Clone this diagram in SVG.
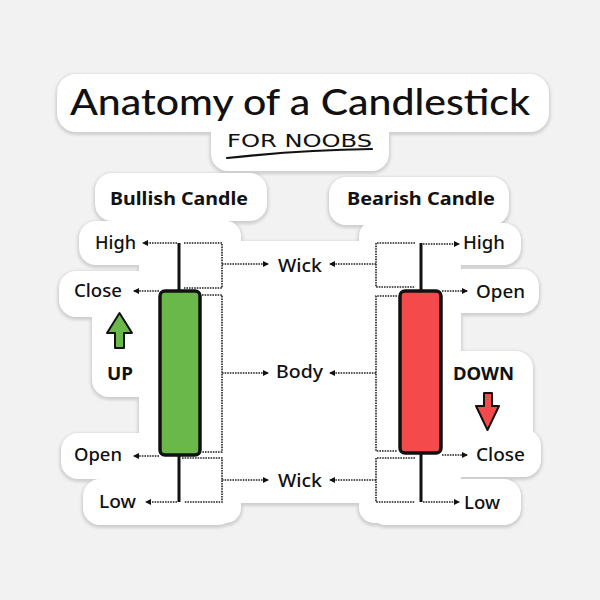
<svg xmlns="http://www.w3.org/2000/svg" width="600" height="600" viewBox="0 0 600 600">
<style>
.lbl{font-family:"Noto Sans","Lato",sans-serif;font-weight:500;font-size:18px;fill:#111}
.bold{font-family:"Noto Sans","Lato",sans-serif;font-weight:700;font-size:18px;fill:#111}
.dot{fill:none;stroke:#222;stroke-width:1.6;stroke-dasharray:1.6 1}
.wick{stroke:#111;stroke-width:3;fill:none}
.body{stroke:#111;stroke-width:3.5}
.stk{fill:#fff}
</style>
<defs>
<marker id="ah" viewBox="0 0 6 6" refX="5" refY="3" markerWidth="6" markerHeight="6" markerUnits="userSpaceOnUse" orient="auto">
<path d="M0,0 L6,3 L0,6 Z" fill="#111"/>
</marker>
<filter id="blur" x="-10%" y="-10%" width="120%" height="120%"><feGaussianBlur stdDeviation="1.5"/></filter>
<g id="stickershape">
<rect x="58" y="75" width="490" height="56" rx="18"/>
<rect x="212" y="118" width="176" height="52" rx="16"/>
<rect x="96" y="174" width="170" height="46" rx="16"/>
<rect x="330" y="178" width="178" height="46" rx="16"/>
<rect x="200" y="242" width="200" height="260" rx="14"/>
<rect x="80" y="222" width="160" height="42" rx="16"/>
<rect x="60" y="272" width="150" height="44" rx="16"/>
<rect x="93" y="300" width="110" height="96" rx="16"/>
<rect x="140" y="222" width="100" height="300" rx="14"/>
<rect x="62" y="434" width="150" height="44" rx="16"/>
<rect x="84" y="480" width="150" height="44" rx="16"/>
<rect x="360" y="224" width="160" height="40" rx="16"/>
<rect x="360" y="270" width="178" height="42" rx="16"/>
<rect x="360" y="222" width="100" height="300" rx="14"/>
<rect x="440" y="352" width="92" height="96" rx="16"/>
<rect x="390" y="430" width="150" height="46" rx="16"/>
<rect x="370" y="480" width="150" height="44" rx="16"/>
</g>
</defs>
<rect width="600" height="600" fill="#f2f2f2"/>
<g id="sticker">
<use href="#stickershape" fill="#cfcfcf" stroke="#cfcfcf" stroke-width="5" transform="translate(0,1.5)" filter="url(#blur)"/>
<use href="#stickershape" fill="#fff" stroke="#fff" stroke-width="2"/>
</g>
<g id="title">
<text x="70" y="115" font-family="Lato,'Noto Sans',sans-serif" font-size="36" font-weight="500" fill="#111" textLength="460" lengthAdjust="spacingAndGlyphs">Anatomy of a Candlestick</text>
<text x="227" y="147" font-family="'DejaVu Sans','Liberation Sans',sans-serif" font-size="18" fill="#111" textLength="145" lengthAdjust="spacingAndGlyphs">FOR NOOBS</text>
<path d="M227,158 Q300,150 372,149" fill="none" stroke="#111" stroke-width="2.2" stroke-linecap="round"/>
</g>
<g id="bullish-title"><text class="bold" x="110" y="205" textLength="138" lengthAdjust="spacingAndGlyphs">Bullish Candle</text></g>
<g id="bearish-title"><text class="bold" x="347" y="205" textLength="148" lengthAdjust="spacingAndGlyphs">Bearish Candle</text></g>

<g id="bull-candle">
<line class="wick" x1="179" y1="243" x2="179" y2="291"/>
<line class="wick" x1="179" y1="455" x2="179" y2="502"/>
<rect class="body" x="160" y="291" width="40" height="164" rx="5" fill="#6ab84a"/>
</g>
<g id="bear-candle">
<line class="wick" x1="421" y1="243" x2="421" y2="291"/>
<line class="wick" x1="421" y1="453" x2="421" y2="502"/>
<rect class="body" x="400" y="291" width="41" height="162" rx="5" fill="#f44a4c"/>
</g>

<g id="up">
<polygon points="119.5,313 132,333 124,333 124,348 115,348 115,333 107,333" fill="#6ab84a" stroke="#111" stroke-width="2" stroke-linejoin="round"/>
<text class="bold" x="107" y="380" textLength="26" lengthAdjust="spacingAndGlyphs">UP</text>
</g>
<g id="down">
<text class="bold" x="453" y="380" textLength="61" lengthAdjust="spacingAndGlyphs">DOWN</text>
<polygon points="484,393 492,393 492,406 499,406 487.5,430 476,406 484,406" fill="#f44a4c" stroke="#111" stroke-width="2" stroke-linejoin="round"/>
</g>

<g id="labels-left">
<text class="lbl" x="95" y="249" textLength="41" lengthAdjust="spacingAndGlyphs">High</text>
<text class="lbl" x="74" y="297" textLength="48" lengthAdjust="spacingAndGlyphs">Close</text>
<text class="lbl" x="74" y="461" textLength="48" lengthAdjust="spacingAndGlyphs">Open</text>
<text class="lbl" x="99" y="508" textLength="37" lengthAdjust="spacingAndGlyphs">Low</text>
</g>
<g id="labels-right">
<text class="lbl" x="463" y="249" textLength="42" lengthAdjust="spacingAndGlyphs">High</text>
<text class="lbl" x="476" y="298" textLength="49" lengthAdjust="spacingAndGlyphs">Open</text>
<text class="lbl" x="476" y="461" textLength="49" lengthAdjust="spacingAndGlyphs">Close</text>
<text class="lbl" x="464" y="509" textLength="36" lengthAdjust="spacingAndGlyphs">Low</text>
</g>
<g id="labels-center">
<text class="lbl" x="278" y="272" textLength="44" lengthAdjust="spacingAndGlyphs">Wick</text>
<text class="lbl" x="276" y="378" textLength="47" lengthAdjust="spacingAndGlyphs">Body</text>
<text class="lbl" x="278" y="487" textLength="44" lengthAdjust="spacingAndGlyphs">Wick</text>
</g>

<g id="connectors">
<line class="dot" x1="177" y1="243" x2="143" y2="243" marker-end="url(#ah)"/>
<line class="dot" x1="159" y1="291" x2="134" y2="291" marker-end="url(#ah)"/>
<line class="dot" x1="159" y1="456" x2="134" y2="456" marker-end="url(#ah)"/>
<line class="dot" x1="177" y1="502" x2="146" y2="502" marker-end="url(#ah)"/>
<polyline class="dot" points="184,243 222,243 222,288 184,288"/>
<polyline class="dot" points="202,295 222,295 222,452 202,452"/>
<polyline class="dot" points="182,458 222,458 222,502 184,502"/>
<line class="dot" x1="222" y1="264" x2="268" y2="264" marker-end="url(#ah)"/>
<line class="dot" x1="222" y1="373" x2="268" y2="373" marker-end="url(#ah)"/>
<line class="dot" x1="222" y1="480" x2="268" y2="480" marker-end="url(#ah)"/>

<line class="dot" x1="423" y1="244" x2="459" y2="244" marker-end="url(#ah)"/>
<line class="dot" x1="442" y1="291" x2="467" y2="291" marker-end="url(#ah)"/>
<line class="dot" x1="442" y1="455" x2="467" y2="455" marker-end="url(#ah)"/>
<line class="dot" x1="423" y1="502" x2="459" y2="502" marker-end="url(#ah)"/>
<polyline class="dot" points="415,243 376,243 376,287 415,287"/>
<polyline class="dot" points="397,296 376,296 376,451 397,451"/>
<polyline class="dot" points="415,458 376,458 376,502 415,502"/>
<line class="dot" x1="376" y1="264" x2="330" y2="264" marker-end="url(#ah)"/>
<line class="dot" x1="376" y1="373" x2="330" y2="373" marker-end="url(#ah)"/>
<line class="dot" x1="376" y1="480" x2="330" y2="480" marker-end="url(#ah)"/>
</g>
</svg>
